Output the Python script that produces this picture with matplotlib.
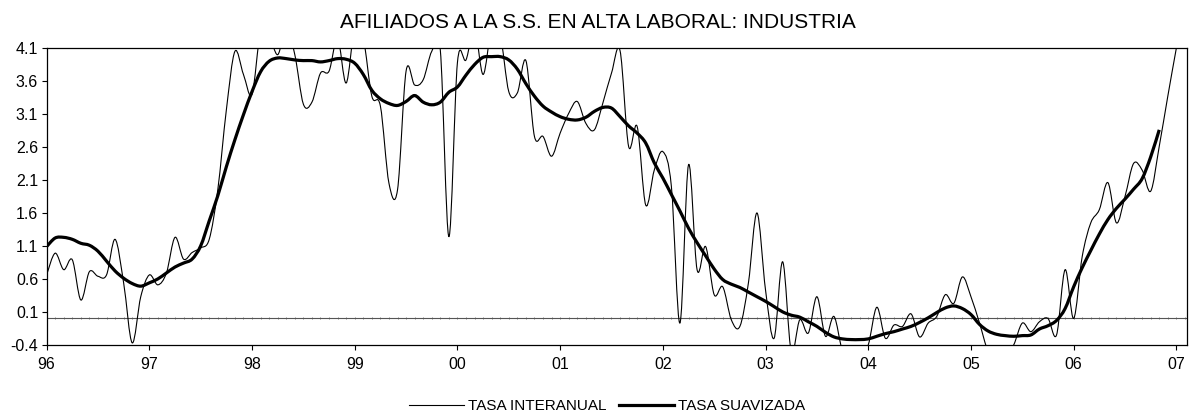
import numpy as np
import matplotlib
matplotlib.use("Agg")
import matplotlib.pyplot as plt
from matplotlib.path import Path
from matplotlib.patches import PathPatch
from matplotlib.lines import Line2D

plt.rcParams['font.family'] = ['Liberation Sans', 'DejaVu Sans']

# monthly data, Jan 1996 = month 0
tasa_interanual = [
    0.66, 0.99, 0.74, 0.89, 0.28, 0.71, 0.64, 0.66, 1.20, 0.54, -0.37, 0.33,   # 96
    0.66, 0.51, 0.69, 1.23, 0.90, 1.00, 1.07, 1.20, 1.95, 3.16, 4.05, 3.70,    # 97
    3.40, 4.35, 4.30, 4.00, 4.40, 4.00, 3.25, 3.28, 3.72, 3.75, 4.25, 3.57,    # 98
    4.40, 4.25, 3.37, 3.22, 2.05, 1.95, 3.75, 3.54, 3.62, 4.05, 4.07, 1.24,    # 99
    3.88, 3.92, 4.40, 3.70, 4.40, 4.30, 3.44, 3.42, 3.91, 2.76, 2.76, 2.46,    # 00
    2.81, 3.11, 3.29, 2.96, 2.86, 3.27, 3.72, 4.06, 2.61, 2.91, 1.72, 2.25,    # 01
    2.53, 2.00, -0.07, 2.33, 0.74, 1.09, 0.36, 0.48, -0.02, -0.12, 0.54, 1.60, # 02
    0.43, -0.30, 0.86, -0.50, -0.02, -0.22, 0.33, -0.27, 0.03, -0.50, -0.60, -0.55,  # 03
    -0.40, 0.17, -0.30, -0.10, -0.12, 0.07, -0.28, -0.07, 0.03, 0.36, 0.23, 0.63,    # 04
    0.33, -0.07, -0.50, -0.65, -0.60, -0.40, -0.07, -0.20, -0.05, 0.00, -0.25, 0.74, # 05
    0.00, 0.94, 1.45, 1.65, 2.06, 1.45, 1.85, 2.35, 2.25, 1.93, 2.61, 3.37,    # 06
    4.10, 4.80,                                                                # 07
]

tasa_suavizada = [
    1.09, 1.22, 1.23, 1.20, 1.14, 1.11, 1.02, 0.87, 0.72, 0.61, 0.53, 0.49,
    0.54, 0.60, 0.69, 0.78, 0.84, 0.90, 1.10, 1.48, 1.86, 2.30, 2.71, 3.09,
    3.44, 3.74, 3.90, 3.95, 3.94, 3.92, 3.91, 3.91, 3.89, 3.91, 3.94, 3.93,
    3.87, 3.70, 3.46, 3.33, 3.26, 3.23, 3.29, 3.38, 3.28, 3.24, 3.28, 3.43,
    3.51, 3.69, 3.85, 3.96, 3.97, 3.97, 3.92, 3.78, 3.56, 3.37, 3.22, 3.13,
    3.06, 3.02, 3.01, 3.05, 3.14, 3.20, 3.19, 3.06, 2.92, 2.81, 2.66, 2.36,
    2.13, 1.88, 1.63, 1.37, 1.15, 0.95, 0.75, 0.59, 0.52, 0.47, 0.40, 0.33,
    0.26, 0.18, 0.10, 0.05, 0.02, -0.05, -0.12, -0.21, -0.28, -0.31, -0.32, -0.32,
    -0.31, -0.27, -0.23, -0.20, -0.16, -0.12, -0.06, 0.01, 0.09, 0.16, 0.19, 0.15,
    0.06, -0.09, -0.19, -0.24, -0.26, -0.27, -0.26, -0.25, -0.16, -0.11, -0.03, 0.15,
    0.48, 0.77, 1.03, 1.28, 1.50, 1.67, 1.81, 1.96, 2.12, 2.45, 2.86,
]

year_labels = ['96', '97', '98', '99', '00', '01', '02', '03', '04', '05', '06', '07']
y_ticks = [-0.4, 0.1, 0.6, 1.1, 1.6, 2.1, 2.6, 3.1, 3.6, 4.1]


def smooth_path(y):
    # excel-like smoothed line: catmull-rom segments as cubic beziers
    x = np.arange(len(y), dtype=float)
    p = np.column_stack([x, np.asarray(y, dtype=float)])
    pp = np.vstack([p[0], p, p[-1]])
    verts = [p[0]]
    codes = [Path.MOVETO]
    for i in range(1, len(pp) - 2):
        c1 = pp[i] + (pp[i + 1] - pp[i - 1]) / 6.0
        c2 = pp[i + 1] - (pp[i + 2] - pp[i]) / 6.0
        verts += [c1, c2, pp[i + 1]]
        codes += [Path.CURVE4] * 3
    return Path(verts, codes)


fig = plt.figure(figsize=(11.95, 4.18), dpi=100)
ax = fig.add_axes([0.039, 0.175, 0.954, 0.710])

ax.axhline(0, color='#555555', lw=0.8, zorder=1)
ax.plot(np.arange(len(tasa_interanual)), np.zeros(len(tasa_interanual)), ls='none',
        marker='|', ms=2, mew=0.5, color='#555555', zorder=1)

ax.add_patch(PathPatch(smooth_path(tasa_interanual), fill=False, lw=0.8, ec='black', zorder=2))
ax.add_patch(PathPatch(smooth_path(tasa_suavizada), fill=False, lw=2.3, ec='black', zorder=3))

ax.set_xlim(0, 133.2)
ax.set_ylim(-0.4, 4.1)
ax.set_xticks(np.arange(0, 12 * len(year_labels), 12))
ax.set_xticklabels(year_labels)
ax.set_yticks(y_ticks)
ax.set_yticklabels(['%.1f' % v for v in y_ticks])
ax.tick_params(axis='both', labelsize=11.5, length=3.6, width=0.8, direction='out', pad=2.5)
ax.tick_params(axis='x', pad=5)
for s in ax.spines.values():
    s.set_linewidth(0.9)

fig.text(0.5, 0.947, 'AFILIADOS A LA S.S. EN ALTA LABORAL: INDUSTRIA', ha='center', va='center', fontsize=15)

handles = [Line2D([], [], color='black', lw=0.8), Line2D([], [], color='black', lw=2.3)]
fig.legend(handles, ['TASA INTERANUAL', 'TASA SUAVIZADA'], loc='center', bbox_to_anchor=(0.508, 0.028),
           ncol=2, frameon=False, fontsize=11, handlelength=3.6, handletextpad=0.3, columnspacing=0.8)

fig.savefig('out.png', dpi=100)
